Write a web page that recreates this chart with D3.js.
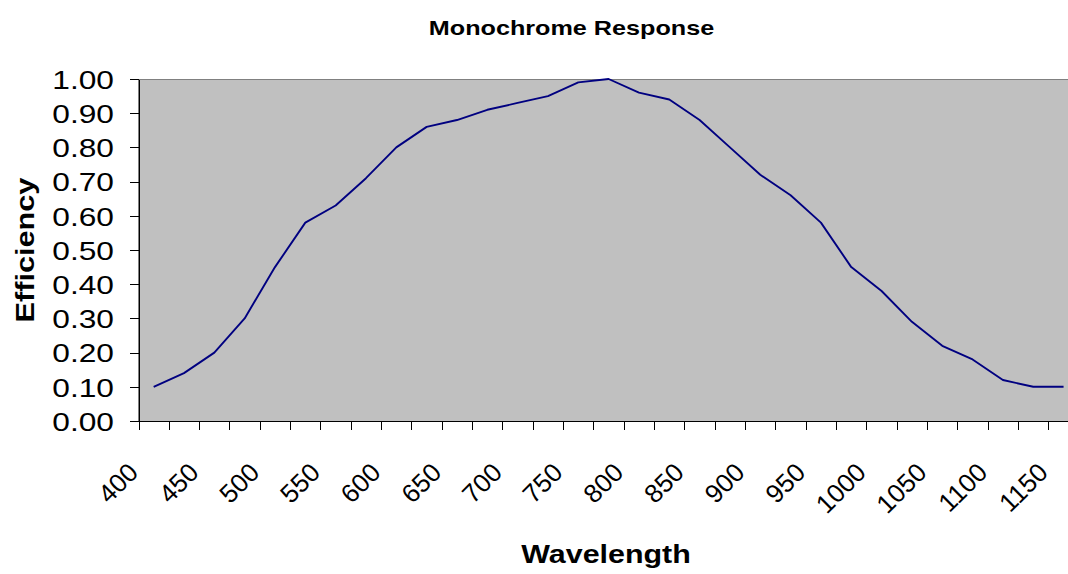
<!DOCTYPE html>
<html>
<head>
<meta charset="utf-8">
<script src="https://cdn.jsdelivr.net/npm/d3@7"></script>
<style>
  html, body { margin: 0; padding: 0; background: #fff; overflow: hidden; }
  svg { display: block; font-family: "Liberation Sans", Arial, sans-serif; }
</style>
</head>
<body>
<svg id="chart" width="1068" height="574"></svg>
<script>
// ---- data ----
const wavelengths = [400, 425, 450, 475, 500, 525, 550, 575, 600, 625, 650, 675, 700, 725, 750, 775,
                     800, 825, 850, 875, 900, 925, 950, 975, 1000, 1025, 1050, 1075, 1100, 1125, 1150];
const efficiency = [0.10, 0.14, 0.20, 0.30, 0.45, 0.58, 0.63, 0.71, 0.80, 0.86, 0.88, 0.91, 0.93, 0.95, 0.99, 1.00,
                    0.96, 0.94, 0.88, 0.80, 0.72, 0.66, 0.58, 0.45, 0.38, 0.29, 0.22, 0.18, 0.12, 0.10, 0.10];
const xTickLabels = [400, 450, 500, 550, 600, 650, 700, 750, 800, 850, 900, 950, 1000, 1050, 1100, 1150];
const yTicks = [0.0, 0.1, 0.2, 0.3, 0.4, 0.5, 0.6, 0.7, 0.8, 0.9, 1.0];
const titleText = "Monochrome Response";
const xTitle = "Wavelength";
const yTitle = "Efficiency";

// ---- layout ----
const plotLeft = 138.5, plotTop = 79, plotBottom = 421;
const bandW = 30.33;
const plotRight = plotLeft + bandW * wavelengths.length;

const svg = d3.select("#chart");

const x = d3.scaleBand().domain(wavelengths).range([plotLeft, plotRight]).padding(0);
const y = d3.scaleLinear().domain([0, 1]).range([plotBottom, plotTop]);

// plot area
svg.append("rect")
  .attr("x", plotLeft).attr("y", plotTop)
  .attr("width", plotRight - plotLeft).attr("height", plotBottom - plotTop)
  .attr("fill", "#C0C0C0").attr("stroke", "#808080").attr("stroke-width", 1)
  .attr("shape-rendering", "crispEdges");

// line
const line = d3.line()
  .x((d, i) => x(wavelengths[i]) + x.bandwidth() / 2)
  .y(d => y(d));
svg.append("path")
  .datum(efficiency)
  .attr("d", line)
  .attr("fill", "none")
  .attr("stroke", "#000080")
  .attr("stroke-width", 1.9)
  .attr("stroke-linejoin", "round");

// y axis
const yAxis = d3.axisLeft(y).tickValues(yTicks).tickSize(9).tickSizeOuter(0).tickFormat(d3.format(".2f"));
const gy = svg.append("g").attr("transform", `translate(${plotLeft},0)`).call(yAxis);
gy.select(".domain").attr("stroke", "#000").attr("shape-rendering", "crispEdges");
gy.selectAll(".tick line").attr("stroke", "#000").attr("shape-rendering", "crispEdges");
gy.selectAll(".tick text")
  .attr("x", null).attr("dy", null)
  .attr("font-size", 26)
  .attr("fill", "#000")
  .attr("font-family", "Liberation Sans, Arial, sans-serif")
  .attr("text-anchor", "end")
  .attr("transform", "translate(-24.5,9.3) scale(1.22,1)");

// x axis line
const xAxis = d3.axisBottom(x).tickValues([]).tickSizeOuter(0);
const gx = svg.append("g").attr("transform", `translate(0,${plotBottom})`).call(xAxis);
gx.select(".domain").attr("stroke", "#000").attr("shape-rendering", "crispEdges");

// x ticks at category boundaries
svg.append("g").selectAll("line")
  .data(wavelengths)
  .join("line")
  .attr("x1", d => Math.round(x(d)) + 0.5).attr("x2", d => Math.round(x(d)) + 0.5)
  .attr("y1", plotBottom).attr("y2", plotBottom + 9)
  .attr("stroke", "#000");

// x labels (rotated 45 degrees)
svg.append("g").selectAll("text")
  .data(xTickLabels)
  .join("text")
  .attr("transform", d => `translate(${x(d) + x.bandwidth() / 2 - 14},474) rotate(-45)`)
  .attr("text-anchor", "end")
  .attr("font-size", 26)
  .text(d => d);

// titles
svg.append("text")
  .attr("transform", "translate(571.5,35) scale(1.26,1)")
  .attr("text-anchor", "middle")
  .attr("font-weight", "bold")
  .attr("font-size", 20)
  .text(titleText);

svg.append("text")
  .attr("transform", "translate(606,563) scale(1.17,1)")
  .attr("text-anchor", "middle")
  .attr("font-weight", "bold")
  .attr("font-size", 26)
  .text(xTitle);

svg.append("text")
  .attr("transform", "translate(33.5,250) rotate(-90) scale(1.18,1)")
  .attr("text-anchor", "middle")
  .attr("font-weight", "bold")
  .attr("font-size", 26)
  .text(yTitle);
</script>
</body>
</html>
